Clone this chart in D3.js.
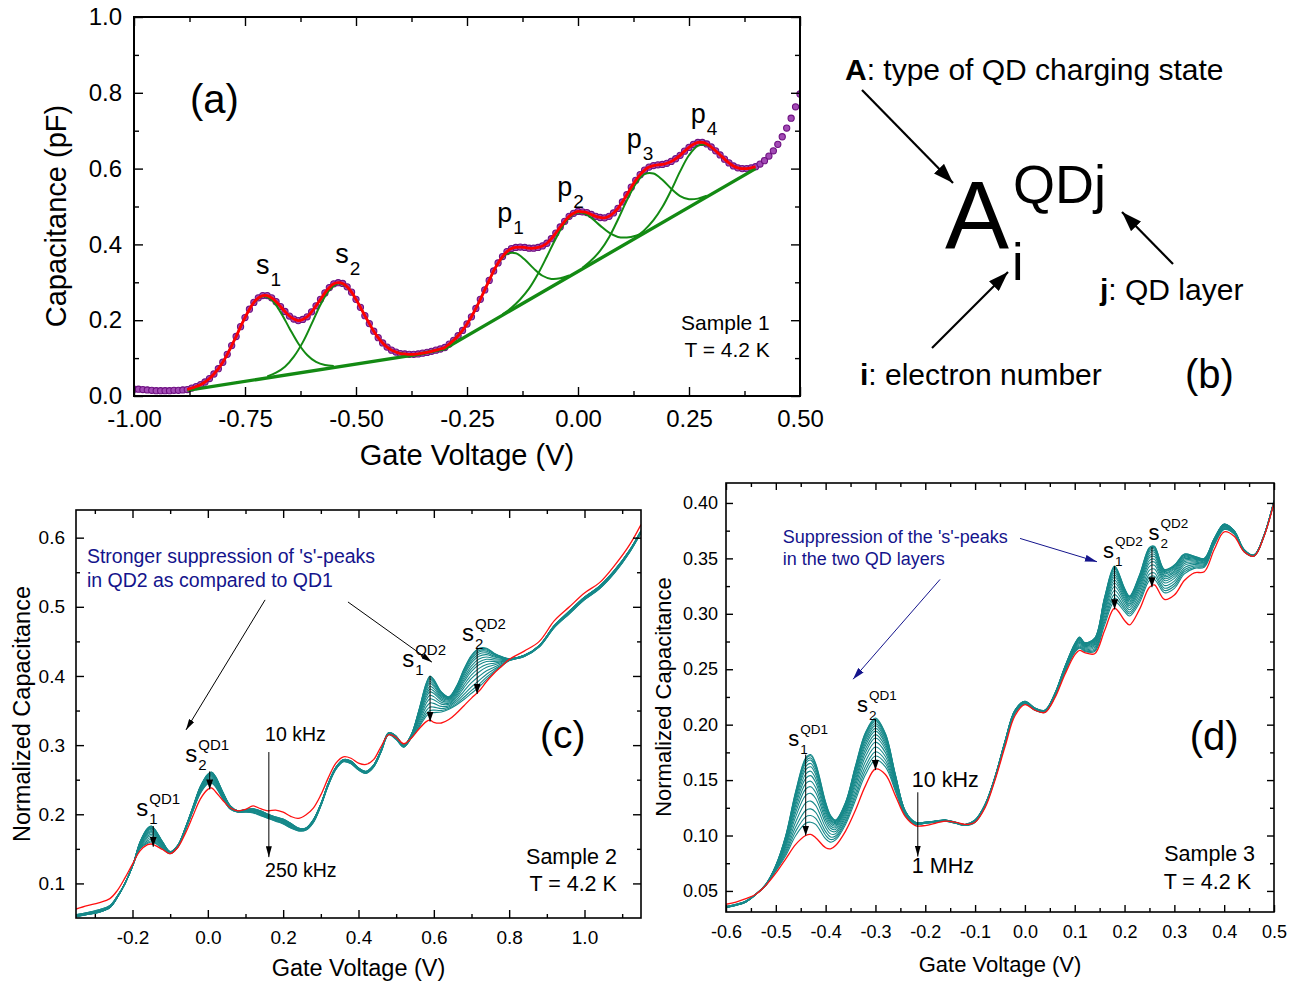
<!DOCTYPE html>
<html>
<head>
<meta charset="utf-8">
<title>QD capacitance spectra</title>
<style>
  body { margin: 0; background: #fff; }
  svg { display: block; background: #fff; }
  svg text { font-family: "Liberation Sans", Arial, Helvetica, sans-serif; fill: #000; }
  .axis path.domain { display: none; }
  .axis line { stroke: #000; stroke-width: 1.4px; }
  .frame { fill: none; stroke: #000; }
  .navy { fill: #14148c !important; }
</style>
</head>
<body>
<svg id="fig" width="1298" height="984"></svg>
<script src="https://cdn.jsdelivr.net/npm/d3@7"></script>
<script>
// ---------- panel (a): sample 1, capacitance vs gate voltage ----------
const voltsA = d3.range(151).map(i => Math.round((-1 + i * 0.01) * 100) / 100);
const capA = [
  .018,.018,.017,.016,.015,.014,.014,.014,.014,.015,
  .015,.016,.017,.021,.025,.030,.037,.046,.058,.072,
  .089,.110,.133,.157,.183,.207,.229,.247,.259,.265,
  .265,.259,.249,.236,.223,.211,.203,.199,.202,.209,
  .222,.238,.255,.272,.286,.296,.299,.297,.288,.274,
  .255,.234,.212,.191,.171,.154,.140,.129,.121,.116,
  .112,.111,.110,.110,.111,.113,.115,.118,.121,.124,
  .128,.137,.147,.159,.173,.190,.209,.231,.255,.280,
  .305,.330,.351,.368,.381,.389,.392,.393,.392,.390,
  .390,.392,.396,.403,.415,.430,.446,.461,.474,.482,
  .487,.486,.484,.479,.474,.471,.470,.474,.483,.495,
  .512,.531,.551,.569,.584,.596,.604,.608,.610,.611,
  .614,.619,.626,.635,.646,.656,.664,.669,.669,.665,
  .657,.647,.636,.625,.615,.607,.602,.600,.600,.602,
  .605,.612,.621,.633,.647,.664,.684,.707,.733,.763,
  .797];
const fitRange = [-0.88, 0.40];
const baseVolts = [-0.88, -0.36, -0.30, 0.40];
const baseCaps = [0.015, 0.110, 0.125, 0.600];
const peakNames = ['s', 's', 'p', 'p', 'p', 'p'];
const peakIndex = ['1', '2', '1', '2', '3', '4'];
const peakCenters = [-0.71, -0.54, -0.16, -0.01, 0.15, 0.27];
// gaussian components, height above baseline, sampled every 0.02 V around the centre
const s1Fit = [.004,.010,.022,.044,.078,.122,.168,.204,.217,.204,.168,.122,.078,.044,.022,.010,.004];
const s2Fit = [.004,.010,.022,.045,.079,.124,.171,.206,.220,.206,.171,.124,.079,.045,.022,.010,.004];
const p1Fit = [.003,.009,.021,.043,.076,.113,.143,.155,.143,.113,.076,.043,.021,.009,.003];
const p2Fit = [.002,.006,.015,.030,.055,.087,.121,.148,.158,.148,.121,.087,.055,.030,.015,.006,.002];
const p3Fit = [.003,.009,.021,.043,.076,.113,.143,.155,.143,.113,.076,.043,.021,.009,.003];
const p4Fit = [.003,.008,.020,.041,.072,.108,.137,.148,.137,.108,.072,.041,.020,.008,.003];
const peakFits = [s1Fit, s2Fit, p1Fit, p2Fit, p3Fit, p4Fit];
const ticksAX = [-1, -0.75, -0.5, -0.25, 0, 0.25, 0.5];
const minorAX = [-0.875, -0.625, -0.375, -0.125, 0.125, 0.375];
const ticksAY = [0, 0.2, 0.4, 0.6, 0.8, 1.0];
const minorAY = [0.1, 0.3, 0.5, 0.7, 0.9];

// ---------- panel (c): sample 2, 10 kHz .. 250 kHz ----------
const voltsC = [
  -0.35,-0.32,-0.29,-0.26,-0.24,-0.22,-0.20,-0.18,-0.16,-0.15,
  -0.14,-0.12,-0.10,-0.08,-0.06,-0.04,-0.02, 0.00, 0.01, 0.02,
   0.04, 0.06, 0.08, 0.10, 0.12, 0.14, 0.16, 0.18, 0.20, 0.22,
   0.24, 0.26, 0.28, 0.30, 0.32, 0.34, 0.36, 0.38, 0.40, 0.42,
   0.44, 0.46, 0.48, 0.50, 0.52, 0.54, 0.56, 0.58, 0.59, 0.60,
   0.62, 0.64, 0.66, 0.68, 0.70, 0.72, 0.74, 0.76, 0.78, 0.80,
   0.84, 0.88, 0.92, 0.96, 1.00, 1.04, 1.08, 1.12, 1.15];
const c250kHz = [
  .063,.068,.072,.078,.090,.108,.128,.147,.156,.157,
  .155,.149,.143,.152,.172,.197,.222,.236,.238,.233,
  .220,.209,.205,.207,.212,.208,.205,.206,.203,.197,
  .194,.199,.209,.228,.253,.274,.283,.281,.274,.272,
  .279,.298,.315,.311,.302,.310,.323,.334,.336,.333,
  .332,.337,.346,.357,.368,.378,.392,.404,.414,.424,
  .436,.450,.480,.500,.520,.535,.560,.590,.619];
const c10kHz = [
  .052,.055,.058,.065,.080,.100,.125,.160,.180,.183,
  .178,.160,.146,.155,.180,.210,.240,.258,.261,.255,
  .232,.212,.205,.207,.208,.205,.200,.196,.193,.187,
  .180,.180,.192,.215,.245,.268,.279,.277,.267,.262,
  .271,.293,.318,.313,.300,.315,.350,.390,.400,.395,
  .377,.370,.385,.410,.430,.440,.440,.433,.428,.425,
  .430,.444,.473,.494,.514,.530,.553,.582,.610];
const cLastTeal = [
  .055,.058,.062,.068,.082,.100,.125,.150,.158,.160,
  .158,.150,.143,.152,.176,.204,.230,.244,.245,.240,
  .222,.207,.203,.203,.202,.198,.194,.190,.186,.180,
  .176,.177,.188,.212,.242,.265,.276,.273,.264,.259,
  .268,.290,.315,.308,.297,.310,.325,.342,.346,.347,
  .348,.352,.358,.366,.375,.384,.395,.405,.414,.422,
  .428,.442,.470,.490,.510,.526,.549,.579,.607];
// height of the s1(QD2) peak (V = 0.59) for each teal sweep, top to bottom
const sweepPeaksC = [.400,.399,.397,.395,.392,.389,.385,.381,.377,.372,.367,.361,.355,.350,.346];
const refVoltC = 0.59;
const ticksCX = [-0.2, 0, 0.2, 0.4, 0.6, 0.8, 1.0];
const minorCX = [-0.3, -0.1, 0.1, 0.3, 0.5, 0.7, 0.9, 1.1];
const ticksCY = [0.1, 0.2, 0.3, 0.4, 0.5, 0.6];
const minorCY = [0.15, 0.25, 0.35, 0.45, 0.55];

// ---------- panel (d): sample 3, 10 kHz .. 1 MHz ----------
const voltsD = [
  -0.60,-0.58,-0.56,-0.54,-0.52,-0.50,-0.48,-0.46,-0.44,-0.43,
  -0.42,-0.40,-0.39,-0.38,-0.36,-0.34,-0.32,-0.30,-0.28,-0.26,
  -0.24,-0.22,-0.20,-0.18,-0.16,-0.14,-0.12,-0.10,-0.08,-0.06,
  -0.04,-0.02, 0.00, 0.02, 0.04, 0.06, 0.08, 0.10, 0.11, 0.12,
   0.14, 0.16, 0.18, 0.20, 0.21, 0.23, 0.25, 0.26, 0.28, 0.30,
   0.32, 0.34, 0.36, 0.38, 0.40, 0.42, 0.44, 0.46, 0.48, 0.50];
const d1MHz = [
  .038,.040,.043,.047,.055,.066,.079,.092,.100,.101,
  .098,.089,.088,.091,.104,.123,.145,.160,.155,.136,
  .117,.109,.109,.111,.113,.112,.110,.112,.125,.150,
  .180,.208,.218,.213,.211,.224,.245,.263,.267,.265,
  .264,.285,.305,.294,.290,.304,.324,.326,.313,.317,
  .330,.337,.338,.358,.374,.370,.356,.352,.370,.400];
const d10kHz = [
  .035,.037,.040,.047,.056,.073,.100,.140,.170,.173,
  .165,.130,.118,.114,.130,.163,.193,.206,.192,.155,
  .122,.112,.112,.113,.114,.112,.110,.114,.128,.153,
  .185,.213,.221,.215,.213,.228,.252,.273,.279,.274,
  .278,.315,.343,.323,.316,.335,.360,.361,.340,.344,
  .354,.352,.350,.368,.381,.375,.358,.353,.371,.402];
const dLastTeal = [
  .036,.038,.041,.047,.055,.068,.082,.100,.111,.112,
  .110,.097,.094,.096,.110,.132,.155,.168,.162,.140,
  .118,.110,.111,.112,.113,.111,.109,.112,.126,.151,
  .182,.210,.219,.213,.211,.225,.247,.265,.269,.266,
  .266,.290,.311,.302,.298,.310,.330,.331,.319,.323,
  .336,.341,.342,.362,.376,.372,.356,.352,.370,.401];
// height of the s1(QD1) peak (V = -0.43) for each teal sweep, top to bottom
const sweepPeaksD = [.173,.172,.170,.168,.165,.162,.158,.154,.149,.144,.138,.131,.124,.118,.112];
const refVoltD = -0.43;
const ticksDX = [-0.6, -0.5, -0.4, -0.3, -0.2, -0.1, 0, 0.1, 0.2, 0.3, 0.4, 0.5];
const minorDX = [-0.55, -0.45, -0.35, -0.25, -0.15, -0.05, 0.05, 0.15, 0.25, 0.35, 0.45];
const ticksDY = [0.05, 0.10, 0.15, 0.20, 0.25, 0.30, 0.35, 0.40];
const minorDY = [0.075, 0.125, 0.175, 0.225, 0.275, 0.325, 0.375];

const svg = d3.select('#fig');
const defs = svg.append('defs');

function addMarker(id, color, len, wid) {
  defs.append('marker')
      .attr('id', id)
      .attr('viewBox', '0 -5 10 10')
      .attr('refX', 10)
      .attr('refY', 0)
      .attr('markerUnits', 'userSpaceOnUse')
      .attr('markerWidth', len)
      .attr('markerHeight', wid)
      .attr('preserveAspectRatio', 'none')
      .attr('orient', 'auto')
    .append('path')
      .attr('d', 'M0,-5L10,0L0,5Z')
      .attr('fill', color);
}
addMarker('head-big', '#000', 20, 14);
addMarker('head-thin', '#000', 11, 6);
addMarker('head-navy', '#14148c', 12, 7);
addMarker('head-peak', '#000', 10, 7);

function makePanel(o) {
  const x = d3.scaleLinear().domain(o.xDomain).range([o.left, o.right]);
  const y = d3.scaleLinear().domain(o.yDomain).range([o.bottom, o.top]);
  const g = svg.append('g');

  defs.append('clipPath').attr('id', o.id)
    .append('rect')
      .attr('x', o.left).attr('y', o.top)
      .attr('width', o.right - o.left).attr('height', o.bottom - o.top);
  const plot = g.append('g').attr('clip-path', `url(#${o.id})`);

  const axes = g.append('g').attr('class', 'axis');
  const none = () => '';
  const put = (axis, tx, ty) => axes.append('g').attr('transform', `translate(${tx},${ty})`).call(axis);

  put(d3.axisBottom(x).tickValues(o.xTicks).tickFormat(o.xFmt).tickSizeInner(-o.major).tickSizeOuter(0).tickPadding(o.xPad), 0, o.bottom);
  put(d3.axisBottom(x).tickValues(o.xMinor).tickFormat(none).tickSizeInner(-o.minor).tickSizeOuter(0), 0, o.bottom);
  put(d3.axisTop(x).tickValues(o.xTicks).tickFormat(none).tickSizeInner(-o.major).tickSizeOuter(0), 0, o.top);
  put(d3.axisTop(x).tickValues(o.xMinor).tickFormat(none).tickSizeInner(-o.minor).tickSizeOuter(0), 0, o.top);
  put(d3.axisLeft(y).tickValues(o.yTicks).tickFormat(o.yFmt).tickSizeInner(-o.major).tickSizeOuter(0).tickPadding(o.yPad), o.left, 0);
  put(d3.axisLeft(y).tickValues(o.yMinor).tickFormat(none).tickSizeInner(-o.minor).tickSizeOuter(0), o.left, 0);
  put(d3.axisRight(y).tickValues(o.yTicks).tickFormat(none).tickSizeInner(-o.major).tickSizeOuter(0), o.right, 0);
  put(d3.axisRight(y).tickValues(o.yMinor).tickFormat(none).tickSizeInner(-o.minor).tickSizeOuter(0), o.right, 0);
  axes.selectAll('text').style('font-size', o.tickFont + 'px');

  g.append('rect')
    .attr('class', 'frame')
    .attr('x', o.left).attr('y', o.top)
    .attr('width', o.right - o.left).attr('height', o.bottom - o.top)
    .style('stroke-width', o.frameW);

  g.append('text')
    .attr('x', (o.left + o.right) / 2)
    .attr('y', o.xTitleY)
    .attr('text-anchor', 'middle')
    .style('font-size', o.titleFont + 'px')
    .text('Gate Voltage (V)');

  g.append('text')
    .attr('transform', `translate(${o.yTitleX},${o.yTitleCY}) rotate(-90)`)
    .attr('text-anchor', 'middle')
    .style('font-size', o.titleFont + 'px')
    .text(o.yTitle);

  return { x, y, g, plot };
}

function note(p, v, c, str, size, anchor, cls) {
  return p.g.append('text')
    .attr('class', cls || null)
    .attr('x', p.x(v))
    .attr('y', p.y(c))
    .attr('text-anchor', anchor || 'start')
    .style('font-size', size + 'px')
    .text(str);
}

function peakLabel(p, v, c, base, sub, sup, st) {
  const t = note(p, v, c, base, st.fs);
  const x0 = p.x(v) + t.node().getComputedTextLength() + st.gap;
  p.g.append('text').attr('x', x0).attr('y', p.y(c) + st.subDy)
    .style('font-size', st.subFs + 'px').text(sub);
  if (sup) {
    p.g.append('text').attr('x', x0).attr('y', p.y(c) - st.supDy)
      .style('font-size', st.subFs + 'px').text(sup);
  }
}

function arrow(p, v0, c0, v1, c1, color, width, marker) {
  p.g.append('line')
    .attr('x1', p.x(v0)).attr('y1', p.y(c0))
    .attr('x2', p.x(v1)).attr('y2', p.y(c1))
    .attr('stroke', color)
    .attr('stroke-width', width)
    .attr('marker-end', `url(#${marker})`);
}

function sweeps(volts, top, last, peaks, refVolt) {
  const k = volts.indexOf(refVolt);
  const span = top[k] - last[k];
  return peaks.map(h => {
    const f = (top[k] - h) / span;
    return volts.map((v, i) => [v, top[i] + f * (last[i] - top[i])]);
  });
}

// ================= panel (a) =================
const pa = makePanel({
  id: 'clip-a', left: 134, right: 800, top: 17, bottom: 396,
  xDomain: [-1, 0.5], yDomain: [0, 1],
  xTicks: ticksAX, xMinor: minorAX, yTicks: ticksAY, yMinor: minorAY,
  xFmt: d => d.toFixed(2), yFmt: d => d.toFixed(1),
  major: 9, minor: 5, xPad: 14, yPad: 12, tickFont: 24, frameW: 2,
  titleFont: 29, xTitleY: 465, yTitleX: 66, yTitleCY: 216,
  yTitle: 'Capacitance (pF)'
});

const baseline = d3.scaleLinear().domain(baseVolts).range(baseCaps);
const lineA = d3.line().x(d => pa.x(d[0])).y(d => pa.y(d[1]));

pa.plot.selectAll('circle.dot')
  .data(voltsA.map((v, i) => [v, capA[i]]))
  .join('circle')
    .attr('class', 'dot')
    .attr('cx', d => pa.x(d[0]))
    .attr('cy', d => pa.y(d[1]))
    .attr('r', 3.1)
    .attr('fill', '#a24ab4')
    .attr('stroke', '#6e1182')
    .attr('stroke-width', 1.1);

peakFits.forEach((fit, k) => {
  const half = (fit.length - 1) / 2;
  const pts = fit
    .map((h, i) => {
      const v = Math.round((peakCenters[k] + (i - half) * 0.02) * 1000) / 1000;
      return [v, h];
    })
    .filter(d => d[0] >= fitRange[0] && d[0] <= fitRange[1])
    .map(d => [d[0], baseline(d[0]) + d[1]]);
  pa.plot.append('path')
    .attr('d', lineA.curve(d3.curveCatmullRom)(pts))
    .attr('fill', 'none')
    .attr('stroke', '#138a13')
    .attr('stroke-width', 2);
});

pa.plot.append('path')
  .attr('d', lineA.curve(d3.curveLinear)(baseVolts.map((v, i) => [v, baseCaps[i]])))
  .attr('fill', 'none')
  .attr('stroke', '#138a13')
  .attr('stroke-width', 3.4);

const fitPts = voltsA
  .map((v, i) => [v, capA[i]])
  .filter(d => d[0] >= fitRange[0] - 1e-9 && d[0] <= fitRange[1] + 1e-9);
pa.plot.append('path')
  .attr('d', lineA.curve(d3.curveCatmullRom)(fitPts))
  .attr('fill', 'none')
  .attr('stroke', '#ff0000')
  .attr('stroke-width', 2.8);

note(pa, -0.874, 0.747, '(a)', 40);
const styleA = { fs: 27, subFs: 19, gap: 1, subDy: 12, supDy: 0 };
const labelPosA = [[-0.725, 0.322], [-0.547, 0.351], [-0.182, 0.459], [-0.047, 0.528], [0.110, 0.654], [0.254, 0.720]];
labelPosA.forEach((d, k) => peakLabel(pa, d[0], d[1], peakNames[k], peakIndex[k], null, styleA));
note(pa, 0.432, 0.174, 'Sample 1', 21, 'end');
note(pa, 0.432, 0.103, 'T = 4.2 K', 21, 'end');

// ================= panel (b) =================
const b = svg.append('g');
b.append('text').attr('x', 845).attr('y', 80).style('font-size', '30px')
  .call(t => {
    t.append('tspan').style('font-weight', 'bold').text('A');
    t.append('tspan').text(': type of QD charging state');
  });
b.append('text').attr('x', 945).attr('y', 248).style('font-size', '96px').text('A');
b.append('text').attr('x', 1013).attr('y', 203).style('font-size', '54px').text('QDj');
b.append('text').attr('x', 1012).attr('y', 280).style('font-size', '52px').text('i');
b.append('text').attr('x', 1100).attr('y', 300).style('font-size', '30px')
  .call(t => {
    t.append('tspan').style('font-weight', 'bold').text('j');
    t.append('tspan').text(': QD layer');
  });
b.append('text').attr('x', 860).attr('y', 385).style('font-size', '30px')
  .call(t => {
    t.append('tspan').style('font-weight', 'bold').text('i');
    t.append('tspan').text(': electron number');
  });
b.append('text').attr('x', 1185).attr('y', 388).style('font-size', '40px').text('(b)');
[[862, 90, 953, 183], [1173, 264, 1122, 212], [932, 348, 1008, 272]].forEach(a => {
  b.append('line')
    .attr('x1', a[0]).attr('y1', a[1]).attr('x2', a[2]).attr('y2', a[3])
    .attr('stroke', '#000').attr('stroke-width', 2.2)
    .attr('marker-end', 'url(#head-big)');
});

// ================= panel (c) =================
const pc = makePanel({
  id: 'clip-c', left: 76, right: 641, top: 510, bottom: 918,
  xDomain: [-0.35, 1.15], yDomain: [0.05, 0.64],
  xTicks: ticksCX, xMinor: minorCX, yTicks: ticksCY, yMinor: minorCY,
  xFmt: d => d.toFixed(1), yFmt: d => d.toFixed(1),
  major: 8, minor: 4, xPad: 13, yPad: 11, tickFont: 19, frameW: 1.6,
  titleFont: 23.5, xTitleY: 976, yTitleX: 30, yTitleCY: 714,
  yTitle: 'Normalized Capacitance'
});
const lineC = d3.line().x(d => pc.x(d[0])).y(d => pc.y(d[1])).curve(d3.curveCatmullRom);
pc.plot.selectAll('path.teal')
  .data(sweeps(voltsC, c10kHz, cLastTeal, sweepPeaksC, refVoltC))
  .join('path')
    .attr('class', 'teal')
    .attr('d', lineC)
    .attr('fill', 'none')
    .attr('stroke', '#17898a')
    .attr('stroke-width', 1.1);
pc.plot.append('path')
  .attr('d', lineC(voltsC.map((v, i) => [v, c250kHz[i]])))
  .attr('fill', 'none')
  .attr('stroke', '#ff1010')
  .attr('stroke-width', 1.3);

const styleC = { fs: 24, subFs: 15, gap: 1, subDy: 8, supDy: 12 };
peakLabel(pc, -0.190, 0.1975, 's', '1', 'QD1', styleC);
peakLabel(pc, -0.060, 0.2756, 's', '2', 'QD1', styleC);
peakLabel(pc, 0.516, 0.413, 's', '1', 'QD2', styleC);
peakLabel(pc, 0.675, 0.4506, 's', '2', 'QD2', styleC);
arrow(pc, -0.145, 0.183, -0.145, 0.153, '#000', 1, 'head-peak');
arrow(pc, 0.005, 0.262, 0.005, 0.236, '#000', 1, 'head-peak');
arrow(pc, 0.59, 0.400, 0.59, 0.334, '#000', 1, 'head-peak');
arrow(pc, 0.715, 0.440, 0.715, 0.374, '#000', 1, 'head-peak');
arrow(pc, 0.162, 0.290, 0.162, 0.138, '#000', 1, 'head-thin');
note(pc, 0.152, 0.306, '10 kHz', 19.5);
note(pc, 0.152, 0.109, '250 kHz', 19.5);
note(pc, 0.882, 0.296, '(c)', 39);
note(pc, 1.086, 0.128, 'Sample 2', 21.5, 'end');
note(pc, 1.086, 0.089, 'T = 4.2 K', 21.5, 'end');
note(pc, -0.321, 0.563, "Stronger suppression of 's'-peaks", 19.5, 'start', 'navy');
note(pc, -0.321, 0.529, 'in QD2 as compared to QD1', 19.5, 'start', 'navy');
arrow(pc, 0.152, 0.510, -0.058, 0.322, '#000', 1, 'head-thin');
arrow(pc, 0.372, 0.507, 0.595, 0.420, '#000', 1, 'head-thin');

// ================= panel (d) =================
const pd = makePanel({
  id: 'clip-d', left: 726, right: 1274, top: 483, bottom: 912,
  xDomain: [-0.6, 0.5], yDomain: [0.031, 0.418],
  xTicks: ticksDX, xMinor: minorDX, yTicks: ticksDY, yMinor: minorDY,
  xFmt: d => d.toFixed(1), yFmt: d => d.toFixed(2),
  major: 7, minor: 4, xPad: 13, yPad: 8, tickFont: 18, frameW: 1.6,
  titleFont: 22, xTitleY: 972, yTitleX: 671, yTitleCY: 697,
  yTitle: 'Normalized Capacitance'
});
const lineD = d3.line().x(d => pd.x(d[0])).y(d => pd.y(d[1])).curve(d3.curveCatmullRom);
pd.plot.selectAll('path.teal')
  .data(sweeps(voltsD, d10kHz, dLastTeal, sweepPeaksD, refVoltD))
  .join('path')
    .attr('class', 'teal')
    .attr('d', lineD)
    .attr('fill', 'none')
    .attr('stroke', '#17898a')
    .attr('stroke-width', 1.1);
pd.plot.append('path')
  .attr('d', lineD(voltsD.map((v, i) => [v, d1MHz[i]])))
  .attr('fill', 'none')
  .attr('stroke', '#ff1010')
  .attr('stroke-width', 1.3);

const styleD = { fs: 22, subFs: 13.5, gap: 1, subDy: 8, supDy: 12 };
peakLabel(pd, -0.475, 0.181, 's', '1', 'QD1', styleD);
peakLabel(pd, -0.337, 0.2114, 's', '2', 'QD1', styleD);
peakLabel(pd, 0.157, 0.3503, 's', '1', 'QD2', styleD);
peakLabel(pd, 0.248, 0.3666, 's', '2', 'QD2', styleD);
arrow(pd, -0.44, 0.173, -0.44, 0.100, '#000', 1, 'head-peak');
arrow(pd, -0.30, 0.205, -0.30, 0.159, '#000', 1, 'head-peak');
arrow(pd, 0.18, 0.343, 0.18, 0.304, '#000', 1, 'head-peak');
arrow(pd, 0.255, 0.360, 0.255, 0.324, '#000', 1, 'head-peak');
arrow(pd, -0.215, 0.139, -0.215, 0.081, '#000', 1, 'head-thin');
note(pd, -0.227, 0.1438, '10 kHz', 21.5);
note(pd, -0.227, 0.0662, '1 MHz', 21.5);
note(pd, 0.331, 0.177, '(d)', 40);
note(pd, 0.462, 0.077, 'Sample 3', 21.5, 'end');
note(pd, 0.454, 0.052, 'T = 4.2 K', 21.5, 'end');
note(pd, -0.486, 0.364, "Suppression of the 's'-peaks", 18, 'start', 'navy');
note(pd, -0.486, 0.344, 'in the two QD layers', 18, 'start', 'navy');
arrow(pd, -0.0098, 0.368, 0.1447, 0.347, '#14148c', 1, 'head-navy');
arrow(pd, -0.1704, 0.331, -0.345, 0.241, '#14148c', 1, 'head-navy');
</script>
</body>
</html>
